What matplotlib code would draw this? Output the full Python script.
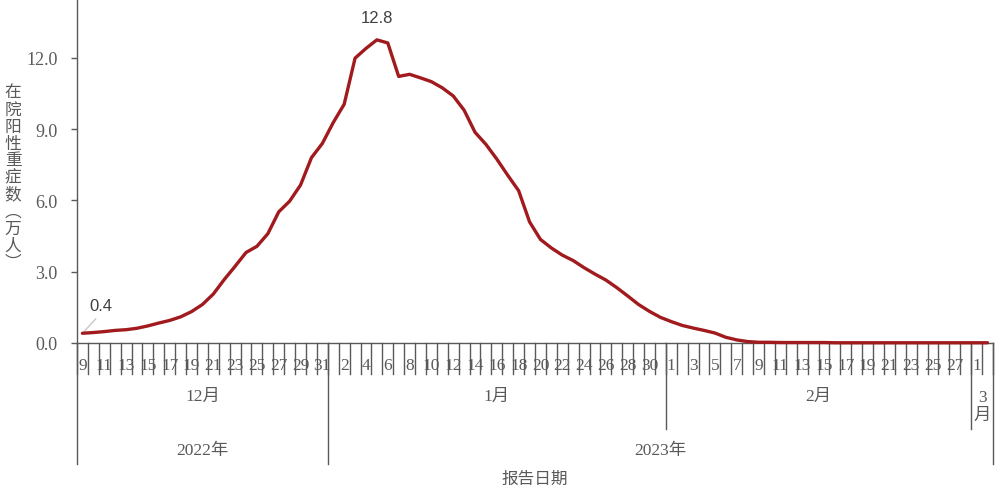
import matplotlib
matplotlib.use("Agg")
import matplotlib.pyplot as plt
from matplotlib.transforms import blended_transform_factory
from matplotlib.ticker import FormatStrFormatter

# ---------------- data ----------------
dec_days = list(range(9, 32))
jan_days = list(range(1, 32))
feb_days = list(range(1, 29))
mar_days = [1, 2]
day_labels = [str(d) for d in dec_days + jan_days + feb_days + mar_days]

months = ["12月", "1月", "2月", "3月"]
month_counts = [len(dec_days), len(jan_days), len(feb_days), len(mar_days)]
years = ["2022年", "2023年"]
year_counts = [len(dec_days), len(jan_days) + len(feb_days) + len(mar_days)]

values = [
    0.41, 0.44, 0.48, 0.53, 0.56, 0.62, 0.72, 0.84, 0.95, 1.10,
    1.32, 1.62, 2.06, 2.67, 3.23, 3.81, 4.07, 4.60, 5.52, 5.97,
    6.65, 7.80, 8.40, 9.28, 10.05, 11.99, 12.40, 12.76, 12.63, 11.22,
    11.31, 11.16, 11.00, 10.74, 10.40, 9.80, 8.87, 8.36, 7.74, 7.06,
    6.41, 5.10, 4.36, 4.00, 3.70, 3.47, 3.17, 2.90, 2.65, 2.33,
    1.98, 1.62, 1.33, 1.08, 0.90, 0.74, 0.63, 0.53, 0.42, 0.24,
    0.13, 0.06, 0.03, 0.03, 0.02, 0.02, 0.02, 0.02, 0.02, 0.01,
    0.01, 0.01, 0.01, 0.01, 0.01, 0.01, 0.01, 0.01, 0.01, 0.01,
    0.01, 0.01, 0.01, 0.01,
]
yticks = [0.0, 3.0, 6.0, 9.0, 12.0]

# ---------------- style ----------------
W, H = 1000, 502
line_color = "#A01A1E"
axis_color = "#595959"
text_color = "#595959"
serif = ["Liberation Serif", "Noto Sans CJK SC", "DejaVu Sans"]
cjk = ["Noto Sans CJK SC", "DejaVu Sans"]

fig = plt.figure(figsize=(W / 100, H / 100), dpi=100)
ax_left, ax_right, ax_top, ax_bottom = 77, 993, 0, 344
ax = fig.add_axes([ax_left / W, 1 - ax_bottom / H,
                   (ax_right - ax_left) / W, (ax_bottom - ax_top) / H])

n = len(values)
x = list(range(n))
ax.plot(x, values, color=line_color, lw=2.4, solid_joinstyle="round",
        solid_capstyle="round", clip_on=False, zorder=5)

ax.set_xlim(-0.5, n - 0.5)
ax.set_ylim(0, 14.48)
ax.set_yticks(yticks)
ax.yaxis.set_major_formatter(FormatStrFormatter("%.1f"))
ax.set_xticks([])
for s in ["top", "right"]:
    ax.spines[s].set_visible(False)
for s in ["left", "bottom"]:
    ax.spines[s].set_color(axis_color)
    ax.spines[s].set_linewidth(1.0)
ax.tick_params(axis="y", direction="out", length=4, width=1.0,
               color=axis_color, pad=10, labelsize=13, labelcolor=text_color)
for lab in ax.get_yticklabels():
    lab.set_family(serif)

# ---------------- multi-level category axis ----------------
T = blended_transform_factory(ax.transData, fig.transFigure)
fy = lambda py: 1 - py / H

# day tick boundaries
for k in range(n + 1):
    ax.plot([k - 0.5, k - 0.5], [fy(344), fy(375)], transform=T,
            color=axis_color, lw=1.0, clip_on=False)
# day labels (every second)
for i, lab in enumerate(day_labels):
    if i % 2 == 0:
        ax.text(i, fy(366), lab, transform=T, ha="center", va="center",
                fontsize=12.5, color=text_color, family=serif)

# month boundaries and labels
year_bounds = [-0.5]
acc = -0.5
for c in year_counts:
    acc += c
    year_bounds.append(acc)
pos = -0.5
bounds = [pos]
for c in month_counts:
    pos += c
    bounds.append(pos)
for b in bounds:
    bottom = 465 if any(abs(b - yb) < 1e-6 for yb in year_bounds) else 430
    ax.plot([b, b], [fy(344), fy(bottom)], transform=T,
            color=axis_color, lw=1.0, clip_on=False)
for mi, m in enumerate(months):
    cx = (bounds[mi] + bounds[mi + 1]) / 2
    if month_counts[mi] < 4:
        ax.text(cx, fy(407), "\n".join([m[:-1], m[-1]]), transform=T,
                ha="center", va="center", fontsize=12.5, color=text_color,
                family=serif, linespacing=1.15)
    else:
        ax.text(cx, fy(397), m, transform=T, ha="center", va="center",
                fontsize=12.5, color=text_color, family=serif)

# year labels
start = -0.5
for yi, yl in enumerate(years):
    end = start + year_counts[yi]
    ax.text((start + end) / 2, fy(451), yl, transform=T, ha="center",
            va="center", fontsize=12.5, color=text_color, family=serif)
    start = end

# axis titles
fig.text(535 / W, fy(479), "报告日期", ha="center", va="center",
         fontsize=12, color=text_color, family=cjk)
fig.text(13 / W, fy(178), "\n".join("在院阳性重症数︵万人︶"), ha="center",
         va="center", fontsize=12, color=text_color, family=cjk,
         linespacing=1.0)

# data labels
imax = values.index(max(values))
ax.annotate(f"{max(values):.1f}", xy=(imax, values[imax]),
            xytext=(0, 16), textcoords="offset points", ha="center",
            va="center", fontsize=12, color="#404040",
            family=["Liberation Sans", "DejaVu Sans"])
ax.annotate(f"{values[0]:.1f}", xy=(0, values[0]), xytext=(13.5, 20),
            textcoords="offset points", ha="center", va="center",
            fontsize=12, color="#404040",
            family=["Liberation Sans", "DejaVu Sans"],
            arrowprops=dict(arrowstyle="-", color="#c8c8c8", lw=1.0,
                            shrinkA=3, shrinkB=2, relpos=(0.5, 0.0)),
            annotation_clip=False)

fig.savefig("out.png", dpi=100)
